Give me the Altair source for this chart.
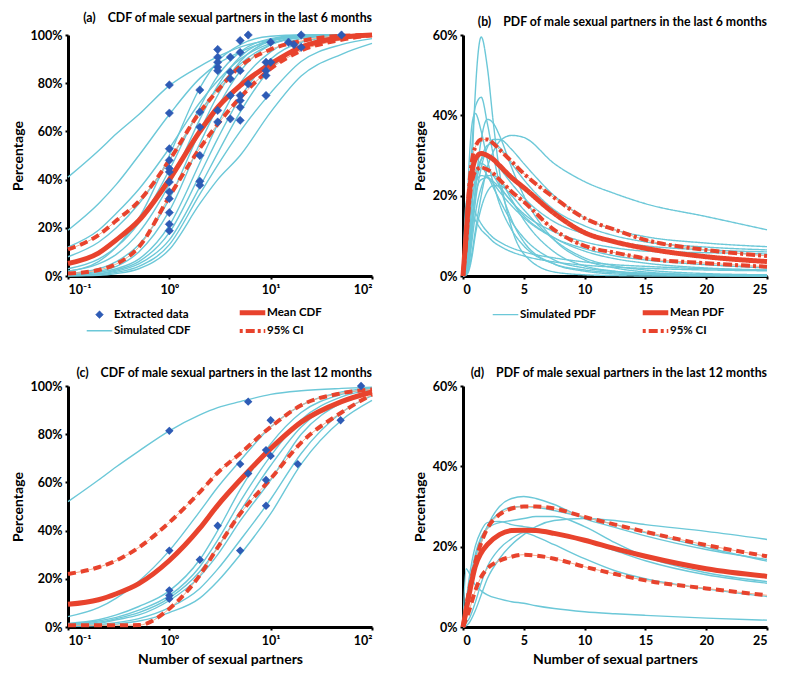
import altair as alt
import pandas as pd

FONT = "Lato"
TEAL = "#6CC8D8"
RED = "#E8432D"
PALE = "#F5A98A"
BLUE = "#2E5BB5"
LINE_PATH = "M-3.3,0H3.3"

# ---------------- (a) CDF, last 6 months ----------------
A_X = [0.1, 0.2, 0.3, 0.5, 1, 2, 3, 5, 10, 20, 50, 100]
A_SIM = [
    [41, 52, 59, 67, 79, 87, 91, 95, 98, 99.5, 100, 100],
    [19, 30, 38, 50, 67, 82, 88, 93, 97.5, 99.5, 100, 100],
    [12, 19, 26, 36, 53, 72, 81, 90, 96.5, 99, 100, 100],
    [8, 14, 20, 30, 48, 68, 78, 88, 96, 99, 100, 100],
    [2, 6, 12, 24, 50, 78, 89, 96, 99.5, 100, 100, 100],
    [3, 7, 12, 22, 44, 70, 83, 93, 98.5, 100, 100, 100],
    [2, 5, 9, 18, 38, 65, 79, 91, 98, 99.8, 100, 100],
    [1, 3, 6, 13, 32, 60, 75, 89, 97.5, 99.5, 100, 100],
    [0.5, 2, 4, 10, 27, 55, 70, 85, 96, 99.3, 100, 100],
    [0.5, 1.5, 3, 7, 21, 47, 63, 80, 93, 98.5, 99.8, 100],
    [0.3, 1, 2.5, 6, 18, 42, 57, 74, 90, 97, 99.5, 100],
    [0.2, 0.8, 2, 5, 15, 37, 51, 68, 86, 95.5, 99.3, 100],
    [0.1, 0.5, 1.5, 4, 13, 34, 46, 60, 76, 89, 96, 98.5],
    [0.1, 0.3, 1, 3, 11, 30, 40, 50, 68, 83, 92, 96.5],
]
A_MEAN = [5.2, 9.5, 15, 23, 40, 60, 70, 79, 88, 95, 99, 100]
A_CI_UP = [11, 17, 23, 31, 48, 68, 77, 87, 94, 97.5, 99.7, 100]
A_CI_LO = [1, 2.5, 5, 12, 33, 53, 63, 74, 86, 93.5, 98, 100]
A_PTS_X = [1, 1, 1, 1, 1, 1, 1, 1, 1, 1, 1, 1,
           2, 2, 2, 2, 2, 2,
           3, 3, 3, 3, 3, 3, 3,
           4, 4, 4, 4, 4,
           5, 5, 5, 5, 5, 5, 5,
           6, 6, 9, 9, 9, 9, 10, 10, 15, 17, 20, 20, 50]
A_PTS_Y = [79.3, 67.6, 52.8, 48, 44.6, 43.2, 39, 34.9, 32.1, 26.3, 21.5, 18.8,
           77.2, 68, 61.8, 50, 39.3, 37.7,
           94, 90.8, 88.7, 86.6, 85.2, 68.7, 63.9,
           90.8, 84.6, 81.8, 74.9, 65.2,
           97.7, 92.8, 85.2, 74.9, 72.8, 70, 64.6,
           100, 79.7, 88.7, 85.2, 83.2, 74.9, 97, 88.7, 97, 96, 100, 94.9, 100]

# ---------------- (b) PDF, last 6 months ----------------
B_X = [0, 0.25, 0.5, 0.75, 1, 1.5, 2, 2.5, 3, 4, 5, 7.5, 10, 12.5, 15, 20, 25]
B_SIM = [
    [0, 1, 10, 28, 45, 59.5, 52, 38, 26, 12, 5.5, 1, 0.3, 0.1, 0, 0, 0],
    [0, 4, 18, 33, 42, 44.5, 38, 30, 23, 14, 8.5, 3, 1.2, 0.5, 0.3, 0.1, 0],
    [0, 10, 28, 38, 40.5, 36, 29, 23, 18, 11.5, 7.5, 3, 1.5, 0.8, 0.5, 0.2, 0.1],
    [0, 0.5, 4, 12, 21, 34, 39, 38, 35, 27, 20, 9, 4, 2, 1, 0.3, 0.1],
    [0, 0.3, 2, 6, 11, 20, 27, 31, 33.5, 35, 34.5, 28, 23.5, 20.5, 18, 14.8, 11.5],
    [0, 0.5, 4, 11, 18, 27, 32, 34, 34, 31.5, 28, 20, 14.5, 11.5, 9.8, 8.2, 7.3],
    [0, 1, 6, 14, 21, 29, 32.5, 33, 32, 28, 24, 16.5, 12.5, 10, 8.5, 7.2, 6.5],
    [0, 2, 9, 18, 24, 29, 30, 29, 27, 23, 19.5, 13.5, 10.5, 8.5, 7.5, 6.5, 6],
    [0, 4, 14, 22, 26, 28, 27, 25, 22.5, 18.5, 15.5, 11, 8.5, 7, 6.2, 5.8, 5.5],
    [0, 0.5, 3, 9, 15, 22, 25, 25, 24, 19, 14, 6, 2.5, 1.2, 0.6, 0.2, 0.1],
    [0, 0.2, 1.5, 5, 10, 17, 21, 22.5, 22.5, 20, 16.5, 9, 4.5, 2.5, 1.5, 0.6, 0.3],
    [0, 12, 16, 15.5, 14, 11.5, 10, 8.5, 7.5, 6, 5, 3.5, 2.7, 2.2, 1.9, 1.5, 1.3],
    [0, 5, 16, 23, 26, 27, 25, 22, 19, 13.5, 9.5, 4, 2, 1.1, 0.7, 0.3, 0.2],
    [0, 1, 7, 15, 20, 24, 24.5, 23.5, 22, 18.5, 15, 9.5, 6.2, 4.3, 3.2, 2, 1.5],
    [0, 3, 12, 19, 23, 25, 24.5, 23, 21, 17.5, 14.5, 9.5, 6.8, 5, 4, 2.8, 2],
    [0, 18, 20, 18, 16, 13, 11, 9.5, 8.5, 7, 6, 4.5, 3.5, 2.8, 2.4, 1.8, 1.5],
]
B_MEAN = [0, 10, 20, 26, 29, 30.5, 30, 29, 27.5, 24.5, 22, 15.6, 10.8, 8.5, 6.9, 4.8, 3.6]
B_CI_UP = [0, 10, 22, 29, 32, 34, 34, 33, 31.5, 28.5, 25.5, 19.5, 14.4, 11.5, 9, 6.5, 5]
B_CI_LO = [0, 8, 18, 23.5, 26, 27, 26.5, 25.5, 24, 21, 18.5, 11.5, 7.5, 5.8, 4.4, 3.2, 2.3]

# ---------------- (c) CDF, last 12 months ----------------
C_X = [0.1, 0.2, 0.3, 0.5, 1, 2, 3, 5, 10, 20, 50, 100]
C_SIM = [
    [52, 61, 66.5, 73, 81.4, 88, 91, 93.5, 96.5, 98, 99, 99.5],
    [4.3, 8, 12, 19, 31.7, 48, 58, 69, 83, 92, 97.5, 99.3],
    [1.5, 3, 5, 8.5, 15, 28, 40, 57, 76, 89, 96.5, 99],
    [1.2, 2.5, 4, 7, 13, 25, 36, 52, 71, 86, 95.5, 98.5],
    [1, 2, 3.5, 6, 12, 23, 33, 48, 67, 83, 94, 98],
    [0.8, 1.5, 3, 5, 11, 21, 30, 44, 61, 80, 93, 97.5],
    [0.5, 1, 1.8, 3.5, 8, 16, 24, 36, 53, 72, 89, 96],
    [0.3, 0.6, 1.2, 2.5, 6, 12, 19, 30, 47, 67.6, 85.8, 94],
]
C_MEAN = [9.4, 11.3, 13.8, 18, 27.6, 41, 50.5, 61, 74, 85, 93.5, 97.5]
C_CI_UP = [22, 24.8, 27.6, 33, 43.4, 56, 64, 72, 83, 92, 97, 98.6]
C_CI_LO = [0.7, 0.7, 0.7, 0.8, 7.6, 21.5, 33, 47, 61.5, 76.5, 89, 96.5]
C_PTS_X = [1, 6, 1, 1, 1, 1, 2, 3, 5, 6, 5, 10, 9, 10, 9, 9, 18.5, 49, 78]
C_PTS_Y = [81.4, 93.5, 31.7, 15.2, 13.1, 11.7, 27.9, 42, 67.6, 63.7, 31.7,
           85.8, 73.4, 71, 61, 50.3, 67.6, 85.8, 100]

# ---------------- (d) PDF, last 12 months ----------------
D_X = [0, 0.25, 0.5, 1, 1.5, 2, 3, 4, 5, 6, 7.5, 10, 12.5, 15, 20, 25]
D_SIM = [
    [0, 3, 7, 15, 21, 25, 30, 32, 32.5, 32, 30.5, 27, 24.8, 22.7, 19.3, 16.8],
    [0, 0.3, 1, 4, 8, 12, 17, 20.5, 23, 25, 26.5, 27, 26.5, 25.5, 23.8, 21.8],
    [0, 5, 9, 17, 22, 25, 28.5, 29.8, 30, 29.8, 29, 27.3, 25.5, 23.5, 19.8, 16.4],
    [0, 5, 10, 18, 22.5, 24.5, 26, 26.5, 27, 27.5, 27.5, 25, 21, 17.5, 13.5, 11.3],
    [0, 6, 12, 20, 24, 26, 26.3, 25.5, 25, 24.5, 23.5, 21.5, 19, 16.5, 13, 10.9],
    [0, 1, 2, 6, 11, 15, 19.5, 22, 23.5, 22.5, 20.5, 17, 14, 12, 9.5, 7.6],
    [0, 14.5, 13.5, 10.5, 9, 8, 7, 6.3, 5.9, 5.3, 4.6, 3.8, 3.3, 2.9, 2.2, 1.7],
]
D_MEAN = [0, 4, 8, 15, 18.5, 20.5, 23, 24, 24.1, 24, 23.3, 21.6, 19.5, 17.6, 14.5, 12.6]
D_CI_UP = [0, 5, 9, 16, 21, 24.5, 28, 29.5, 30, 30, 29.5, 27.4, 25.5, 23.7, 20.4, 17.6]
D_CI_LO = [0, 2, 4, 9, 12.5, 14.5, 16.5, 17.5, 18, 17.8, 17, 15, 13.2, 11.6, 9.6, 7.9]

# legend entries (filled column by column: left column first)
LEG_A = ["Extracted data", "Simulated CDF", "Mean CDF", "95% CI"]
LEG_B = ["Simulated PDF", " ", "Mean PDF", "95% CI"]

NB = "\u00a0\u00a0\u00a0\u00a0"
TITLES = [
    "(a)" + NB + "CDF of male sexual partners in the last 6 months",
    "(b)" + NB + "PDF of male sexual partners in the last 6 months",
    "(c)" + NB + "CDF of male sexual partners in the last 12 months",
    "(d)" + NB + "PDF of male sexual partners in the last 12 months",
]


def curves(x, ys_list, name, series):
    rows = []
    for i, ys in enumerate(ys_list):
        for xv, yv in zip(x, ys):
            rows.append({"x": xv, "y": yv, "curve": f"{name}-{i}", "series": series})
    return pd.DataFrame(rows)


AX = dict(domainColor="black", domainWidth=3, tickColor="black", tickWidth=2, tickSize=3,
          labelFont=FONT, labelFontSize=12.5, labelFontWeight="bold", labelColor="black",
          titleFont=FONT, titleFontSize=14, titleFontWeight="bold", titleColor="black",
          grid=False)
LOG_LABELS = ("datum.value < 0.5 ? '10\u207b\u00b9' : datum.value < 5 ? '10\u2070' : "
              "datum.value < 50 ? '10\u00b9' : '10\u00b2'")
CI_LEGEND_DASH = [3, 3, 9, 3]


def yaxis(vals):
    return alt.Axis(values=vals, labelExpr="datum.value + '%'", title="Percentage",
                    labelPadding=3, titlePadding=5, **AX)


def xaxis(log, title):
    if log:
        return alt.Axis(values=[0.1, 1, 10, 100], labelExpr=LOG_LABELS, title=title,
                        labelPadding=4, titlePadding=6, **AX)
    return alt.Axis(values=[0, 5, 10, 15, 20, 25], title=title, labelPadding=4,
                    titlePadding=6, **AX)


def make_legend(x, colpad, stype=None):
    kw = dict(title=None, orient="none", legendX=x, legendY=271, columns=2,
              columnPadding=colpad, rowPadding=0, labelFont=FONT, labelFontSize=11.5,
              labelFontWeight="bold", labelColor="black", labelOffset=8,
              padding=0, symbolSize=60)
    if stype:
        kw["symbolType"] = stype
    return alt.Legend(**kw)


def panel(idx, log, xs, sim, mean, up, lo, ymax, xtitle, pts=None, legend_b=False):
    xscale = alt.Scale(type="log", domain=[0.1, 100]) if log else alt.Scale(domain=[0, 25])
    yscale = alt.Scale(domain=[0, ymax])
    yvals = list(range(0, ymax + 1, 20))
    X = alt.X("x:Q", scale=xscale, axis=xaxis(log, xtitle))
    Y = alt.Y("y:Q", scale=yscale, axis=yaxis(yvals))

    df_sim = curves(xs, sim, "sim", "Simulated PDF")
    df_mean = curves(xs, [mean], "mean", "Mean PDF")
    df_ci = curves(xs, [up, lo], "ci", "95% CI")

    layers = []
    if legend_b:
        leg = make_legend(36, 35, LINE_PATH)
        sc = alt.Scale(domain=LEG_B, range=[TEAL, "transparent", RED, RED])
        sw = alt.Scale(type="ordinal", domain=LEG_B, range=[1.4, 0, 5, 4])
        sd = alt.Scale(domain=LEG_B, range=[[1, 0], [1, 0], [1, 0], CI_LEGEND_DASH])

        def enc(ch):
            return ch.encode(
                x=X, y=Y, detail="curve:N",
                stroke=alt.Stroke("series:N", scale=sc, legend=leg),
                strokeWidth=alt.StrokeWidth("series:N", scale=sw, legend=leg),
                strokeDash=alt.StrokeDash("series:N", scale=sd, legend=leg),
            )
        layers.append(enc(alt.Chart(df_sim).mark_line(interpolate="monotone")))
        layers.append(alt.Chart(df_ci).mark_line(interpolate="monotone", color=PALE,
                                                 strokeWidth=1).encode(x=X, y=Y, detail="curve:N"))
        layers.append(enc(alt.Chart(df_ci).mark_line(interpolate="monotone")))
        layers.append(enc(alt.Chart(df_mean).mark_line(interpolate="monotone")))
    else:
        layers.append(alt.Chart(df_sim).mark_line(interpolate="monotone", color=TEAL,
                                                  strokeWidth=1.4).encode(x=X, y=Y, detail="curve:N"))
        layers.append(alt.Chart(df_ci).mark_line(interpolate="monotone", color=PALE,
                                                 strokeWidth=1).encode(x=X, y=Y, detail="curve:N"))
        layers.append(alt.Chart(df_ci).mark_line(interpolate="monotone", color=RED, strokeWidth=4,
                                                 strokeDash=[8, 5]).encode(x=X, y=Y, detail="curve:N"))
        layers.append(alt.Chart(df_mean).mark_line(interpolate="monotone", color=RED,
                                                   strokeWidth=5).encode(x=X, y=Y, detail="curve:N"))
    if pts is not None:
        px, py, with_legend = pts
        dfp = pd.DataFrame({"x": px, "y": py, "kind": "Extracted data"})
        if with_legend:
            leg = make_legend(25, 38)
            layers.append(alt.Chart(dfp).mark_point(filled=True, opacity=1, size=70).encode(
                x=X, y=Y,
                shape=alt.Shape("kind:N", scale=alt.Scale(domain=LEG_A, range=["diamond", LINE_PATH, LINE_PATH, LINE_PATH]), legend=leg),
                fill=alt.Fill("kind:N", scale=alt.Scale(domain=LEG_A, range=[BLUE, TEAL, RED, RED]), legend=leg),
                stroke=alt.Stroke("kind:N", scale=alt.Scale(domain=LEG_A, range=[BLUE, TEAL, RED, RED]), legend=leg),
                strokeWidth=alt.StrokeWidth("kind:N", scale=alt.Scale(type="ordinal", domain=LEG_A, range=[0.5, 1.4, 5, 4]), legend=leg),
                strokeDash=alt.StrokeDash("kind:N", scale=alt.Scale(domain=LEG_A, range=[[1, 0], [1, 0], [1, 0], CI_LEGEND_DASH]), legend=leg),
            ))
        else:
            layers.append(alt.Chart(dfp).mark_point(filled=True, opacity=1, shape="diamond",
                                                    size=70, color=BLUE).encode(x=X, y=Y))
    return alt.layer(*layers).properties(
        width=304, height=241,
        title=alt.TitleParams(TITLES[idx], anchor="end", frame="group", font=FONT, fontSize=12.3,
                              fontWeight="bold", color="black", offset=1),
    )


pa = panel(0, True, A_X, A_SIM, A_MEAN, A_CI_UP, A_CI_LO, 100, None, pts=(A_PTS_X, A_PTS_Y, True))
pb = panel(1, False, B_X, B_SIM, B_MEAN, B_CI_UP, B_CI_LO, 60, None, legend_b=True)
pc = panel(2, True, C_X, C_SIM, C_MEAN, C_CI_UP, C_CI_LO, 100, "Number of sexual partners",
           pts=(C_PTS_X, C_PTS_Y, False))
pd_ = panel(3, False, D_X, D_SIM, D_MEAN, D_CI_UP, D_CI_LO, 60, "Number of sexual partners")

chart = alt.concat(pa, pb, pc, pd_, columns=2, spacing={"row": 110, "column": 91},
                   bounds="flush").resolve_scale(
    stroke="independent", fill="independent", shape="independent",
    strokeDash="independent", strokeWidth="independent",
).resolve_legend(
    stroke="independent", fill="independent", shape="independent",
    strokeDash="independent", strokeWidth="independent",
).properties(padding={"left": 3, "top": 3, "right": 5, "bottom": 5}).configure_view(strokeWidth=0)

chart.save("out.html", embed_options={"renderer": "svg", "actions": False})
